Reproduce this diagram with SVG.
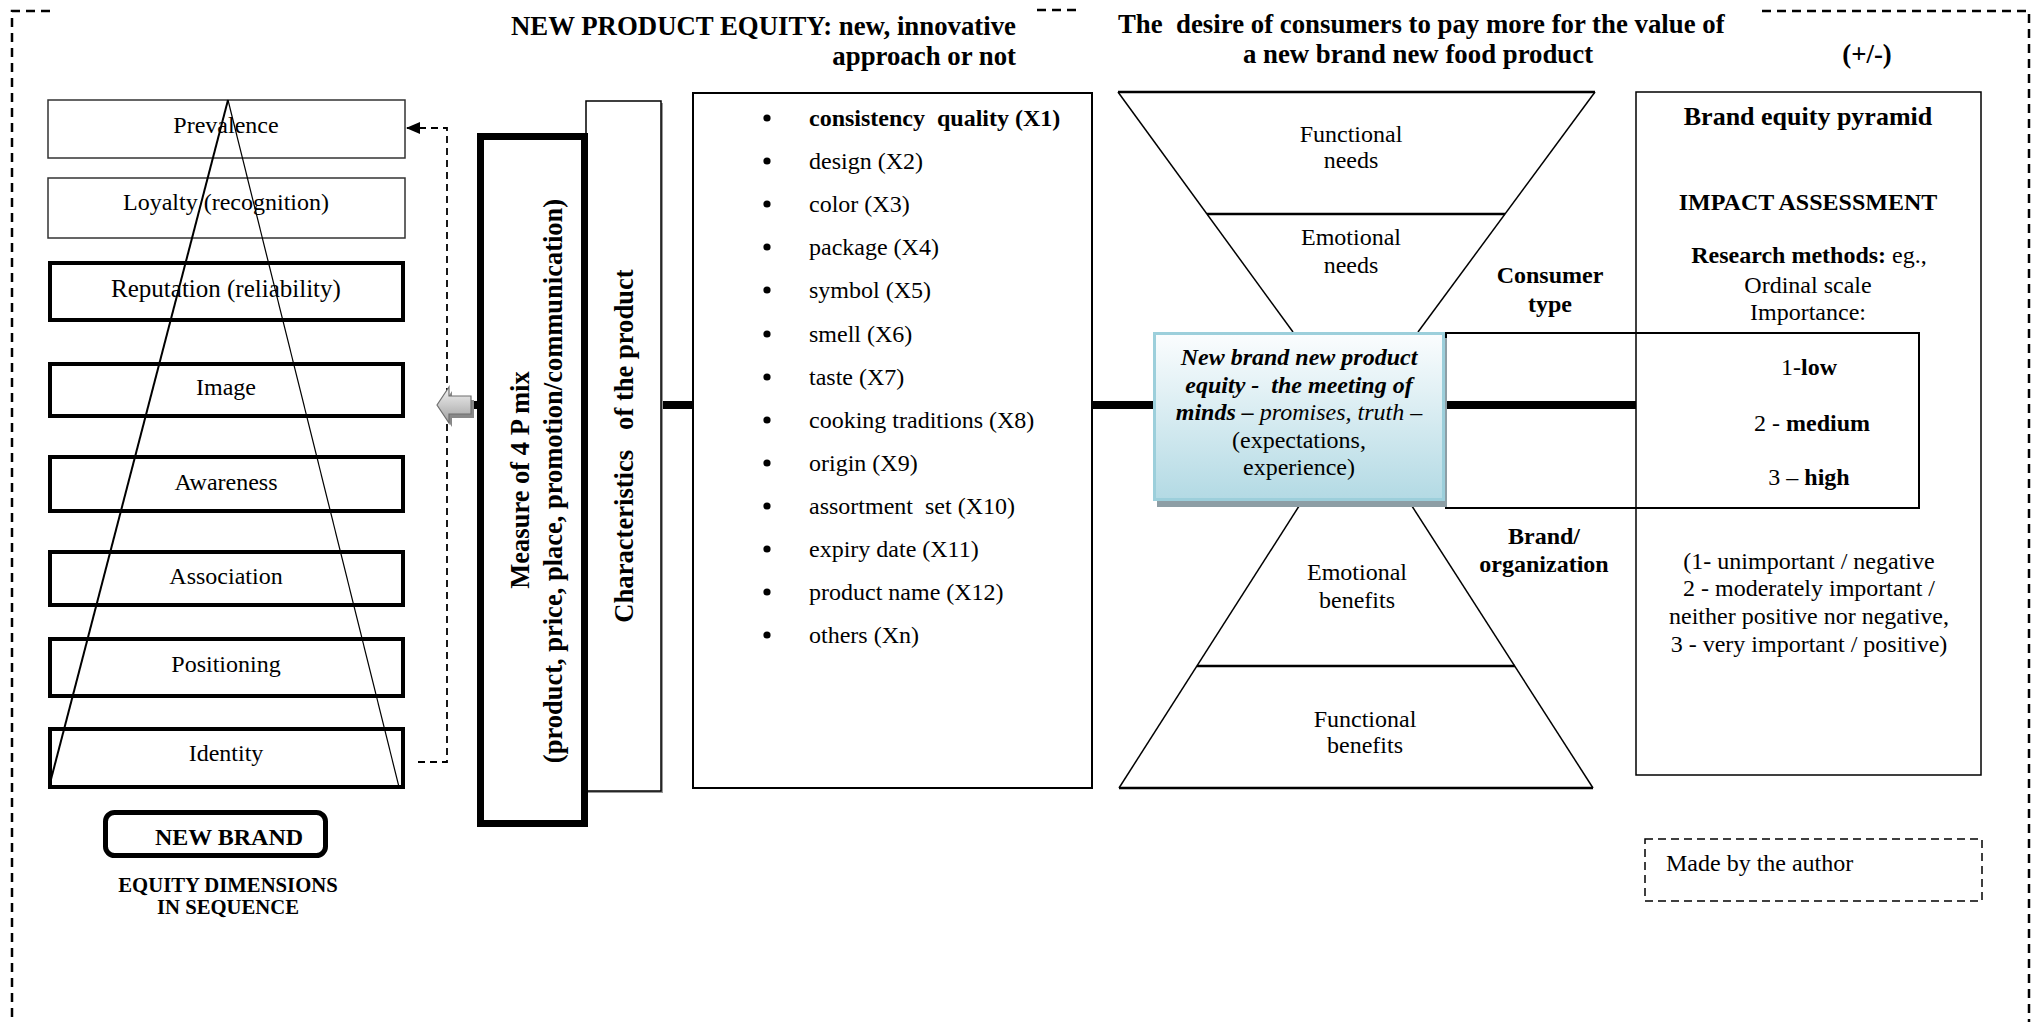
<svg xmlns="http://www.w3.org/2000/svg" width="2040" height="1022" viewBox="0 0 2040 1022">
<defs>
<style>
  text { font-family: "Liberation Serif", "Times New Roman", serif; font-size: 24px; fill: #000; }
  .b { font-weight: bold; }
  .i { font-style: italic; }
  .c { text-anchor: middle; }
  .r { text-anchor: end; }
  .h { font-size: 26.8px; font-weight: bold; }
  .thin { fill: #fff; stroke: #333; stroke-width: 1.5; }
  .thick { fill: #fff; stroke: #000; stroke-width: 4; }
  .ln { fill: none; stroke: #000; }
  .bar { stroke: #000; stroke-width: 8; }
  .frame { fill: none; stroke: #000; stroke-width: 2.5; stroke-dasharray: 9 6; }
</style>
<linearGradient id="blueFill" x1="0" y1="0" x2="0" y2="1">
  <stop offset="0" stop-color="#fbfdfe"/>
  <stop offset="1" stop-color="#b3dae4"/>
</linearGradient>
<linearGradient id="arrowFill" x1="0" y1="0" x2="0" y2="1">
  <stop offset="0" stop-color="#f4f4f4"/>
  <stop offset="1" stop-color="#a0a0a0"/>
</linearGradient>
<marker id="tip" markerWidth="14" markerHeight="12" refX="14" refY="6" orient="auto" markerUnits="userSpaceOnUse">
  <path d="M0,0 L14,6 L0,12 Z" fill="#000"/>
</marker>
</defs>

<rect width="2040" height="1022" fill="#fff"/>

<!-- outer dashed frame, broken where the titles sit -->
<g id="frame">
  <path class="frame" d="M50,11 H12 V1022"/>
  <path class="frame" d="M1037,10 H1078"/>
  <path class="frame" d="M1762,11 H2029 V1022"/>
</g>

<!-- titles -->
<g id="titles">
  <text class="h r" x="1016" y="35">NEW PRODUCT EQUITY: new, innovative</text>
  <text class="h r" x="1016" y="65">approach or not</text>
  <text class="h" x="1118" y="33" xml:space="preserve">The  desire of consumers to pay more for the value of</text>
  <text class="h c" x="1418" y="63">a new brand new food product</text>
  <text class="h c" x="1867" y="63">(+/-)</text>
</g>

<!-- connectors -->
<g id="connectors">
  <line class="bar" x1="471" y1="405" x2="1636" y2="405"/>
  <path d="M418,762 H447 V128 H406" fill="none" stroke="#000" stroke-width="1.8" stroke-dasharray="7 5" marker-end="url(#tip)"/>
  <polygon points="440,409 452,391 452,400 474,400 474,418 452,418 452,427" fill="#888"/>
  <polygon points="437,405 449,387 449,396 471,396 471,414 449,414 449,423" fill="url(#arrowFill)" stroke="#6f6f6f" stroke-width="1.2"/>
</g>

<!-- equity dimensions -->
<g id="prevalence">
  <rect class="thin" x="48" y="100" width="357" height="58"/>
  <text class="c" x="226" y="133">Prevalence</text>
</g>
<g id="loyalty">
  <rect class="thin" x="48" y="178" width="357" height="60"/>
  <text class="c" x="226" y="210">Loyalty (recognition)</text>
</g>
<g id="reputation">
  <rect class="thick" x="50" y="263" width="353" height="57"/>
  <text class="c" x="226" y="297" style="font-size:25px">Reputation (reliability)</text>
</g>
<g id="image">
  <rect class="thick" x="50" y="364" width="353" height="52"/>
  <text class="c" x="226" y="395">Image</text>
</g>
<g id="awareness">
  <rect class="thick" x="50" y="457" width="353" height="54"/>
  <text class="c" x="226" y="490">Awareness</text>
</g>
<g id="association">
  <rect class="thick" x="50" y="552" width="353" height="53"/>
  <text class="c" x="226" y="584">Association</text>
</g>
<g id="positioning">
  <rect class="thick" x="50" y="639" width="353" height="57"/>
  <text class="c" x="226" y="672">Positioning</text>
</g>
<g id="identity">
  <rect class="thick" x="50" y="729" width="353" height="58"/>
  <text class="c" x="226" y="761">Identity</text>
</g>
<g id="pyramid">
  <line class="ln" x1="228" y1="100" x2="49" y2="787" stroke-width="2"/>
  <line class="ln" x1="228" y1="100" x2="399" y2="787" stroke-width="1.2"/>
</g>
<g id="new-brand">
  <rect x="105.5" y="812.5" width="220" height="43" rx="9" fill="#fff" stroke="#000" stroke-width="5"/>
  <text class="b c" x="229" y="845">NEW BRAND</text>
  <text class="b c" x="228" y="892" style="font-size:20.7px">EQUITY DIMENSIONS</text>
  <text class="b c" x="228" y="914" style="font-size:20.7px">IN SEQUENCE</text>
</g>

<!-- product side -->
<g id="characteristics">
  <rect x="588" y="103" width="75" height="690" fill="#999"/>
  <rect x="586" y="101" width="75" height="690" fill="#fff" stroke="#000" stroke-width="1.5"/>
  <text class="b" transform="translate(633,446) rotate(-90)" text-anchor="middle" style="font-size:26.6px" xml:space="preserve">Characteristics   of the product</text>
</g>
<g id="marketing-mix">
  <rect x="480.5" y="136.5" width="104" height="687" fill="#fff" stroke="#000" stroke-width="7"/>
  <text class="b" transform="translate(529,480) rotate(-90)" text-anchor="middle" style="font-size:26.5px">Measure of 4 P mix</text>
  <text class="b" transform="translate(562,481) rotate(-90)" text-anchor="middle" style="font-size:26.5px">(product, price, place, promotion/communication)</text>
</g>
<g id="attributes">
  <rect x="693" y="93" width="399" height="695" fill="#fff" stroke="#000" stroke-width="2"/>
  <g fill="#000">
    <circle cx="767" cy="118" r="3.6"/>
    <circle cx="767" cy="161" r="3.6"/>
    <circle cx="767" cy="204" r="3.6"/>
    <circle cx="767" cy="247" r="3.6"/>
    <circle cx="767" cy="290" r="3.6"/>
    <circle cx="767" cy="334" r="3.6"/>
    <circle cx="767" cy="377" r="3.6"/>
    <circle cx="767" cy="420" r="3.6"/>
    <circle cx="767" cy="463" r="3.6"/>
    <circle cx="767" cy="506" r="3.6"/>
    <circle cx="767" cy="549" r="3.6"/>
    <circle cx="767" cy="592" r="3.6"/>
    <circle cx="767" cy="635" r="3.6"/>
  </g>
  <text class="b" x="809" y="126" xml:space="preserve">consistency  quality (X1)</text>
  <text x="809" y="169">design (X2)</text>
  <text x="809" y="212">color (X3)</text>
  <text x="809" y="255">package (X4)</text>
  <text x="809" y="298">symbol (X5)</text>
  <text x="809" y="342">smell (X6)</text>
  <text x="809" y="385">taste (X7)</text>
  <text x="809" y="428">cooking traditions (X8)</text>
  <text x="809" y="471">origin (X9)</text>
  <text x="809" y="514" xml:space="preserve">assortment  set (X10)</text>
  <text x="809" y="557">expiry date (X11)</text>
  <text x="809" y="600">product name (X12)</text>
  <text x="809" y="643">others (Xn)</text>
</g>

<!-- needs / benefits hourglass -->
<g id="needs">
  <line class="ln" x1="1118" y1="92" x2="1595" y2="92" stroke-width="2.5"/>
  <line class="ln" x1="1118" y1="92" x2="1293" y2="332" stroke-width="1.5"/>
  <line class="ln" x1="1595" y1="92" x2="1418" y2="332" stroke-width="1.5"/>
  <line class="ln" x1="1207" y1="214" x2="1505" y2="214" stroke-width="2.5"/>
  <text class="c" x="1351" y="142">Functional</text>
  <text class="c" x="1351" y="168">needs</text>
  <text class="c" x="1351" y="245">Emotional</text>
  <text class="c" x="1351" y="273">needs</text>
</g>
<g id="benefits">
  <line class="ln" x1="1301" y1="503" x2="1119" y2="788" stroke-width="1.5"/>
  <line class="ln" x1="1410" y1="503" x2="1593" y2="788" stroke-width="1.5"/>
  <line class="ln" x1="1119" y1="788" x2="1593" y2="788" stroke-width="2.5"/>
  <line class="ln" x1="1197" y1="666" x2="1515" y2="666" stroke-width="2.5"/>
  <text class="c" x="1357" y="580">Emotional</text>
  <text class="c" x="1357" y="608">benefits</text>
  <text class="c" x="1365" y="727">Functional</text>
  <text class="c" x="1365" y="753">benefits</text>
</g>
<g id="consumer-type">
  <text class="b c" x="1550" y="283">Consumer</text>
  <text class="b c" x="1550" y="312">type</text>
</g>
<g id="brand-organization">
  <text class="b c" x="1544" y="544">Brand/</text>
  <text class="b c" x="1544" y="572">organization</text>
</g>

<!-- brand equity pyramid assessment -->
<g id="assessment">
  <rect x="1636" y="92" width="345" height="683" fill="#fff" stroke="#000" stroke-width="1.5"/>
  <text class="h c" x="1808" y="125" style="font-size:26px">Brand equity pyramid</text>
  <text class="b c" x="1808" y="210">IMPACT ASSESSMENT</text>
  <text class="c" x="1809" y="263"><tspan class="b">Research methods:</tspan> eg.,</text>
  <text class="c" x="1808" y="293">Ordinal scale</text>
  <text class="c" x="1808" y="320">Importance:</text>
  <text class="c" x="1809" y="569">(1- unimportant / negative</text>
  <text class="c" x="1809" y="596">2 - moderately important /</text>
  <text class="c" x="1809" y="624">neither positive nor negative,</text>
  <text class="c" x="1809" y="652">3 - very important / positive)</text>
</g>
<g id="scale">
  <rect x="1446" y="333" width="473" height="175" fill="none" stroke="#000" stroke-width="2"/>
  <text class="c" x="1809" y="375">1-<tspan class="b">low</tspan></text>
  <text class="c" x="1812" y="431" xml:space="preserve">2 - <tspan class="b">medium</tspan></text>
  <text class="c" x="1809" y="485" xml:space="preserve">3 – <tspan class="b">high</tspan></text>
</g>
<g id="meeting-of-minds">
  <rect x="1157" y="338" width="290" height="169" fill="#8d9ea5"/>
  <rect x="1154.5" y="333.5" width="289" height="166" fill="url(#blueFill)" stroke="#9ccfdb" stroke-width="3"/>
  <text class="c b i" x="1299" y="365">New brand new product</text>
  <text class="c b i" x="1299" y="393" xml:space="preserve">equity -  the meeting of</text>
  <text class="c i" x="1299" y="420" xml:space="preserve"><tspan class="b">minds – </tspan>promises, truth –</text>
  <text class="c" x="1299" y="448">(expectations,</text>
  <text class="c" x="1299" y="475">experience)</text>
</g>

<g id="source-note">
  <rect x="1645" y="839" width="337" height="62" fill="none" stroke="#000" stroke-width="1.5" stroke-dasharray="8 5"/>
  <text x="1666" y="871">Made by the author</text>
</g>
</svg>
